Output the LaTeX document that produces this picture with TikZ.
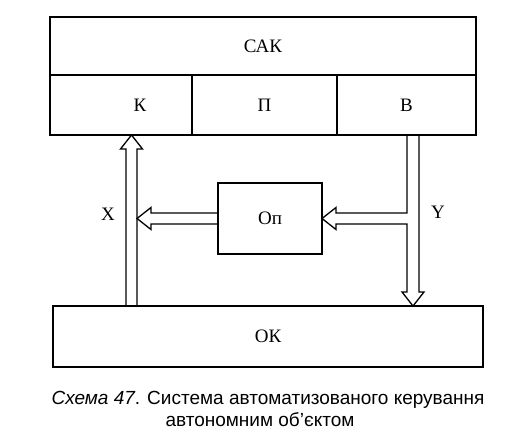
\documentclass[tikz,border=0pt]{standalone}
\usepackage{fontspec}
\setmainfont{Liberation Serif}
\newfontfamily\capfont{Liberation Sans}
\usetikzlibrary{calc}
\tikzset{
  every picture/.style={line width=1.6pt, font=\fontsize{19}{21}\selectfont},
  block/.style={draw, inner sep=0pt, outer sep=0pt, minimum width=#1},
  block/.default=100pt,
  hollow/.style={draw, line width=1.3pt, line join=miter},
  lab/.style={inner sep=1pt},
}
\begin{document}
\begin{tikzpicture}[x=1pt, y=-1pt]
  \useasboundingbox (0,0) rectangle (518,438);
  % control system
  \node[block=426pt, minimum height=58pt] (sak) at (263,46) {САК};
  \node[block=142pt, minimum height=60pt, label={[xshift=19pt]center:К}] (k) at (121,105) {};
  \node[block=145pt, minimum height=60pt] (p) at (264.5,105) {П};
  \node[block=139pt, minimum height=60pt] (v) at (406.5,105) {В};
  % object
  \node[block=430pt, minimum height=61pt] (ok) at (268,336.5) {ОК};
  \node[block=104pt, minimum height=71pt] (op) at (270,218.5) {Оп};
  % arrow axes
  \coordinate (xa) at (131.5,0);
  \coordinate (ya) at (413,0);
  % X: object -> K
  \draw[hollow] ($(xa |- ok.north)+(-5.5,0)$) -- ($(xa |- k.south)+(-5.5,14)$)
    -- ++(-5.5,0) -- (xa |- k.south) -- ($(xa |- k.south)+(11,14)$)
    -- ++(-5.5,0) -- ($(xa |- ok.north)+(5.5,0)$);
  % Y: B -> object, branch to Op
  \draw[hollow] ($(ya |- v.south)+(-6,0)$) -- ($(ya |- op.east)+(-6,-5.5)$)
    -- ($(op.east)+(14,-5.5)$) -- ++(0,-5.5) -- (op.east) -- ($(op.east)+(14,11)$)
    -- ++(0,-5.5) -- ($(ya |- op.east)+(-6,5.5)$) -- ($(ya |- ok.north)+(-6,-14)$)
    -- ++(-5,0) -- (ya |- ok.north) -- ($(ya |- ok.north)+(11,-14)$)
    -- ++(-5,0) -- ($(ya |- v.south)+(6,0)$);
  % Op -> X
  \draw[hollow] ($(op.west)+(0,-5.5)$) -- ($(xa |- op.west)+(19.5,-5.5)$)
    -- ++(0,-5.5) -- ($(xa |- op.west)+(5.5,0)$) -- ($(xa |- op.west)+(19.5,11)$)
    -- ++(0,-5.5) -- ($(op.west)+(0,5.5)$);
  \node[lab] (xl) at (108,214) {X};
  \node[lab] (yl) at (438,212) {Y};
  % caption
  \node[font=\capfont\fontsize{19}{22.5}\selectfont, align=center] (cap) at (268,409)
    {\textit{Схема 47}. Система автоматизованого керування\\\hspace*{-16pt}автономним об’єктом};
\end{tikzpicture}
\end{document}
